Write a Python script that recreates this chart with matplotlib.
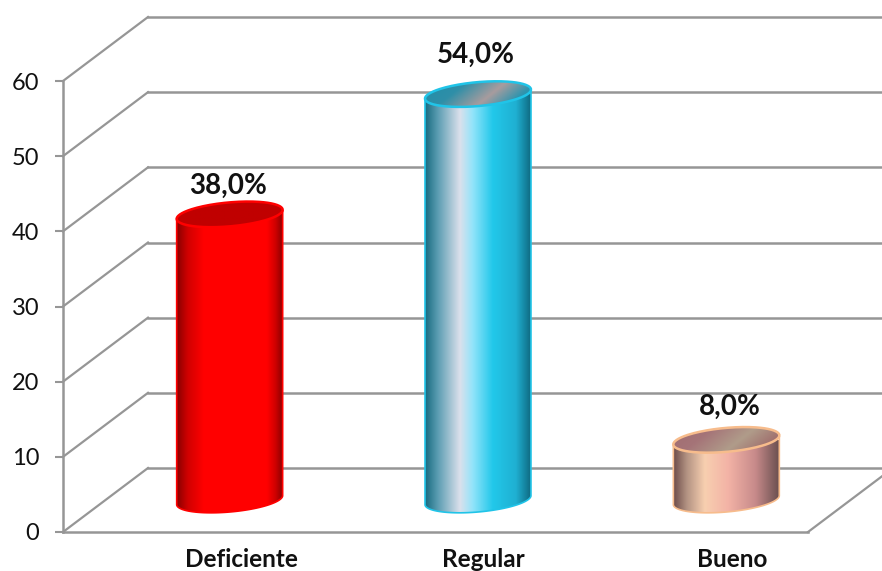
import matplotlib
matplotlib.use("Agg")
import matplotlib.pyplot as plt
from matplotlib.colors import LinearSegmentedColormap
from matplotlib.patches import PathPatch, Polygon
from matplotlib.path import Path
from matplotlib.transforms import Affine2D
import numpy as np

categories = ["Deficiente", "Regular", "Bueno"]
values = [38.0, 54.0, 8.0]
value_labels = ["38,0%", "54,0%", "8,0%"]
y_ticks = [0, 10, 20, 30, 40, 50, 60]

side_stops = [
    [(0, "#8a0000"), (0.1, "#d00000"), (0.25, "#ff0000"), (0.85, "#ff0000"), (0.93, "#d00000"), (1, "#8a0000")],
    [(0, "#176a80"), (0.12, "#5b9db2"), (0.33, "#dbe0ec"), (0.45, "#92e4fa"), (0.64, "#22c8ea"), (0.86, "#1fb0d2"), (1, "#0f6a82")],
    [(0, "#6b4a48"), (0.13, "#b39383"), (0.3, "#f8cfb0"), (0.52, "#f3b3a6"), (0.78, "#c78a8a"), (1, "#6b5050")],
]
top_stops = [
    [(0, "#c00000"), (1, "#c00000")],
    [(0, "#1f8ea9"), (0.32, "#2f8fa8"), (0.6, "#a89c9e"), (0.82, "#2f94ae"), (1, "#1f96b4")],
    [(0, "#a06c70"), (0.3, "#a57478"), (0.6, "#b09c8a"), (0.85, "#a0706e"), (1, "#966a68")],
]
edge_colors = ["#ff0000", "#20c4e8", "#f7bc8c"]
label_lift = [29, 39, 33]
label_nudge = [-1.5, -1.5, 2.5]
label_shift = [39, 34.5, 34.5]

GRAY = "#969696"
DEPTH_X, DEPTH_Y = 85, 64  # size of the floor in pixels
RX, RY, TILT = 53, 12, 4.5  # cylinder ellipse in pixels

plt.rcParams["font.family"] = ["Lato", "DejaVu Sans"]

fig = plt.figure(figsize=(8.82, 5.71), dpi=100)
ax = fig.add_axes([63 / 882, 39 / 571, 745 / 882, 451 / 571])
ax.set_xlim(-0.5, 2.5)
ax.set_ylim(0, 60)

back = ax.transData + Affine2D().translate(DEPTH_X, DEPTH_Y)
middle = ax.transData + Affine2D().translate(DEPTH_X / 2, DEPTH_Y / 2)

# walls and floor
for v in y_ticks:
    ax.plot([-0.5, 3.5], [v, v], transform=back, color=GRAY, lw=1.8, clip_on=False, zorder=1)
    x0, y0 = ax.transData.transform((-0.5, v))
    ax.plot([x0, x0 + DEPTH_X], [y0, y0 + DEPTH_Y], transform=None, color=GRAY, lw=1.6, clip_on=False, zorder=1)
x0, y0 = ax.transData.transform((2.5, 0))
ax.plot([x0, x0 + DEPTH_X], [y0, y0 + DEPTH_Y], transform=None, color=GRAY, lw=1.6, clip_on=False, zorder=1)

for s in ["top", "right"]:
    ax.spines[s].set_visible(False)
for s in ["left", "bottom"]:
    ax.spines[s].set_color(GRAY)
    ax.spines[s].set_linewidth(1.8)
ax.patch.set_alpha(0)
ax.set_xticks([])
ax.set_yticks(y_ticks)
ax.tick_params(axis="y", length=6, width=1.5, color=GRAY, labelsize=17, pad=11, labelcolor="#111111")

px_x = 1 / (ax.transData.transform((1, 0))[0] - ax.transData.transform((0, 0))[0])
px_y = 1 / (ax.transData.transform((0, 1))[1] - ax.transData.transform((0, 0))[1])
t = np.linspace(0, 2 * np.pi, 181)


def ellipse(cx, cy):
    return cx + RX * px_x * np.cos(t), cy + (RY * np.sin(t) + TILT * np.cos(t)) * px_y


def gradient(stops, box, clip, z, data=None):
    cmap = LinearSegmentedColormap.from_list("g", stops)
    if data is None:
        data = np.linspace(0, 1, 256)[None, :]
    im = ax.imshow(data, cmap=cmap, vmin=0, vmax=1, extent=box, aspect="auto",
                   transform=middle, interpolation="bilinear", zorder=z)
    im.set_clip_path(clip)


for i, v in enumerate(values):
    # body of the cylinder: lower half of the base, then up to the lid
    bx, by = ellipse(i, 0)
    tx, ty = ellipse(i, v)
    xs = np.concatenate([bx[91:180], [tx[0]], [tx[90]]])
    ys = np.concatenate([by[91:180], [ty[0]], [ty[90]]])
    body = Polygon(np.column_stack([xs, ys]), closed=True, transform=middle,
                   facecolor="none", edgecolor=edge_colors[i], lw=1.2, zorder=4)
    ax.add_patch(body)
    body.set_clip_on(False)
    box = (i - RX * px_x, i + RX * px_x, ys.min(), v)
    gradient(side_stops[i], box, body, 3)

    # top of the cylinder
    lid = PathPatch(Path(np.column_stack([tx, ty])), transform=middle, facecolor="none",
                    edgecolor=edge_colors[i], lw=1.8, zorder=6)
    ax.add_patch(lid)
    lid.set_clip_on(False)
    gx, gy = np.meshgrid(np.linspace(0, 1, 128), np.linspace(0, 1, 64))
    box = (i - RX * px_x, i + RX * px_x, v - 14 * px_y, v + 14 * px_y)
    gradient(top_stops[i], box, lid, 5, data=0.75 * gx + 0.25 * gy)

    ax.annotate(value_labels[i], xy=(i, v), xycoords=middle, xytext=(label_nudge[i], label_lift[i] * 0.72),
                textcoords="offset points", ha="center", va="center", fontsize=20,
                fontweight="bold", color="#111111", zorder=7, annotation_clip=False)

    ax.annotate(categories[i], xy=(i, 0), xycoords="data", xytext=(label_shift[i], -20),
                textcoords="offset points", ha="center", va="center", fontsize=17.5,
                fontweight="bold", color="#111111", annotation_clip=False)

ax.set_xlim(-0.5, 2.5)
ax.set_ylim(0, 60)
fig.savefig("out.png", dpi=100)
